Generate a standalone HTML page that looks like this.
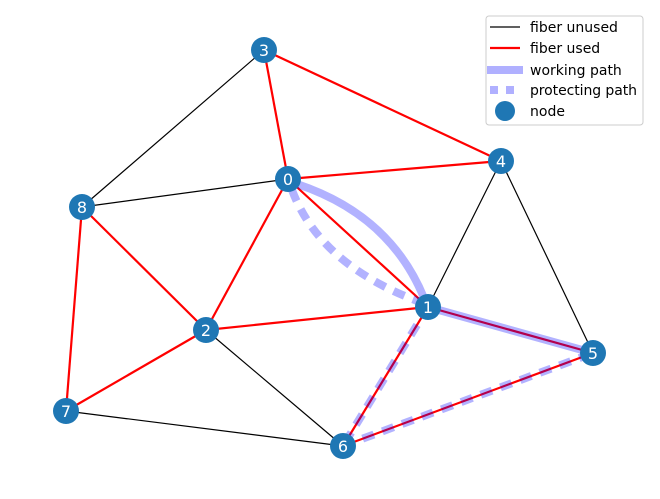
<!DOCTYPE html>
<html><head><meta charset="utf-8"><style>html,body{margin:0;padding:0;background:#fff}svg{display:block}</style></head>
<body>
<svg width="660" height="499" viewBox="0 0 660 499" xmlns="http://www.w3.org/2000/svg" font-family="'DejaVu Sans','Liberation Sans',sans-serif">
<!-- black edges -->
<g stroke="#000" stroke-width="1.2">
<line x1="264" y1="50" x2="82" y2="207"/>
<line x1="82" y1="207" x2="288" y2="179"/>
<line x1="501" y1="161" x2="428" y2="307"/>
<line x1="501" y1="161" x2="593" y2="353"/>
<line x1="206" y1="330" x2="343" y2="446"/>
<line x1="66" y1="411" x2="343" y2="446"/>
</g>
<!-- red edges -->
<g stroke="#ff0000" stroke-width="2.2">
<line x1="264" y1="50" x2="288" y2="179"/>
<line x1="264" y1="50" x2="501" y2="161"/>
<line x1="288" y1="179" x2="501" y2="161"/>
<line x1="288" y1="179" x2="428" y2="307"/>
<line x1="288" y1="179" x2="206" y2="330"/>
<line x1="82" y1="207" x2="206" y2="330"/>
<line x1="82" y1="207" x2="66" y2="411"/>
<line x1="206" y1="330" x2="66" y2="411"/>
<line x1="206" y1="330" x2="428" y2="307"/>
<line x1="428" y1="307" x2="343" y2="446"/>
<line x1="428" y1="307" x2="593" y2="353"/>
<line x1="343" y1="446" x2="593" y2="353"/>
</g>
<!-- path overlays (semi-transparent, on top) -->
<g fill="none" stroke="#0000ff" stroke-opacity="0.3" stroke-linecap="butt">
<path d="M297,184 Q390,215 424,298" stroke-width="8"/>
<line x1="428" y1="307" x2="593" y2="353" stroke-width="8"/>
<path d="M292,190 Q320,265 420,302" stroke-width="8" stroke-dasharray="12,9"/>
<line x1="428" y1="307" x2="343" y2="446" stroke-width="8" stroke-dasharray="12,9"/>
<line x1="343" y1="446" x2="593" y2="353" stroke-width="8" stroke-dasharray="12,9"/>
</g>
<!-- nodes -->
<g fill="#1f77b4">
<circle cx="264" cy="50" r="13"/><circle cx="288" cy="179" r="13"/><circle cx="501" cy="161" r="13"/>
<circle cx="82" cy="207" r="13"/><circle cx="428" cy="307" r="13"/><circle cx="593" cy="353" r="13"/>
<circle cx="206" cy="330" r="13"/><circle cx="66" cy="411" r="13"/><circle cx="343" cy="446" r="13"/>
</g>
<g fill="#fff" font-size="16" text-anchor="middle">
<text x="264" y="56">3</text><text x="288" y="185">0</text><text x="501" y="167">4</text>
<text x="82" y="213">8</text><text x="428" y="313">1</text><text x="593" y="359">5</text>
<text x="206" y="336">2</text><text x="66" y="417">7</text><text x="343" y="452">6</text>
</g>
<!-- legend -->
<rect x="486" y="16" width="157" height="109" rx="3" fill="#fff" fill-opacity="0.85" stroke="#ccc"/>
<line x1="490" y1="27" x2="520" y2="27" stroke="#000" stroke-width="1.2"/>
<line x1="490" y1="48" x2="520" y2="48" stroke="#f00" stroke-width="2.2"/>
<line x1="487" y1="70" x2="523" y2="70" stroke="#b0b0ff" stroke-width="8"/>
<line x1="490" y1="90" x2="520" y2="90" stroke="#b0b0ff" stroke-width="8" stroke-dasharray="8,8"/>
<circle cx="505" cy="111" r="10" fill="#1f77b4"/>
<g font-size="14" fill="#000">
<text x="530" y="32">fiber unused</text>
<text x="530" y="53">fiber used</text>
<text x="530" y="75">working path</text>
<text x="530" y="95" textLength="107">protecting path</text>
<text x="530" y="116">node</text>
</g>
</svg>
</body></html>
